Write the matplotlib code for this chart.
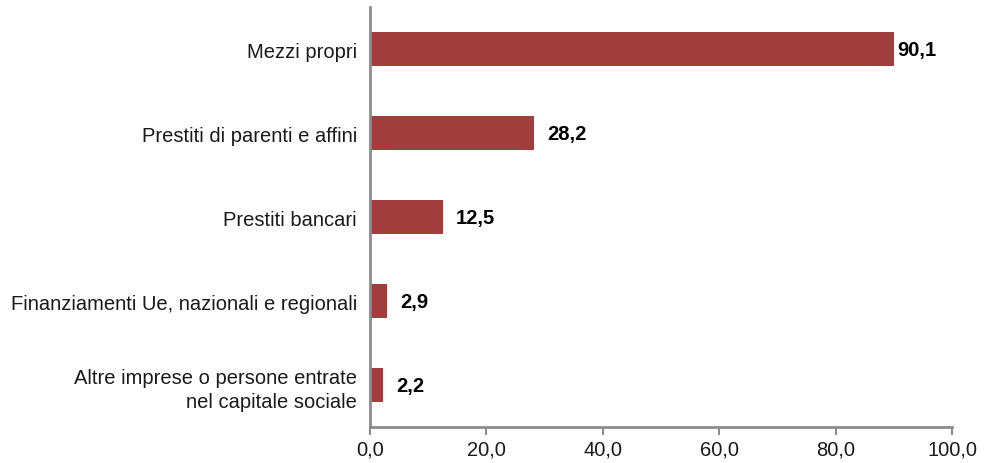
import matplotlib
matplotlib.use("Agg")
import matplotlib.pyplot as plt

categories = ["Mezzi propri", "Prestiti di parenti e affini", "Prestiti bancari",
              "Finanziamenti Ue, nazionali e regionali",
              "Altre imprese o persone entrate\nnel capitale sociale"]
values = [90.1, 28.2, 12.5, 2.9, 2.2]
xticks = [0, 20, 40, 60, 80, 100]
xtick_labels = ["0,0", "20,0", "40,0", "60,0", "80,0", "100,0"]

plt.rcParams['font.family'] = ['Liberation Sans', 'DejaVu Sans']

fig = plt.figure(figsize=(9.92, 4.64), dpi=100)
ax = fig.add_axes([0.373, 0.0776, 0.5867, 0.905])

ypos = list(range(len(categories)))
ax.barh(ypos, values, height=0.4, color="#A03D3D")
ax.set_ylim(len(categories) - 0.5, -0.5)
ax.set_xlim(0, 100)
ax.set_yticks(ypos)
ax.set_yticklabels(categories, fontsize=14.5, color="#1a1a1a", linespacing=1.3)
ax.set_xticks(xticks)
ax.set_xticklabels(xtick_labels, fontsize=14.5, color="#1a1a1a")
ax.tick_params(axis='y', length=0, pad=9.5)
ax.tick_params(axis='x', length=6, width=1.5, color="#8c8c8c", pad=3, direction='out')

for s in ["top", "right"]:
    ax.spines[s].set_visible(False)
for s in ["left", "bottom"]:
    ax.spines[s].set_color("#8c8c8c")
    ax.spines[s].set_linewidth(2)

for y, v in zip(ypos, values):
    off = 2 if v > 85 else 9.5
    ax.annotate(f"{v:.1f}".replace(".", ","), xy=(v, y), xytext=(off, 0),
                textcoords="offset points", va="center", ha="left",
                fontsize=14.5, fontweight="bold", color="black")

fig.savefig("out.png", dpi=100)
